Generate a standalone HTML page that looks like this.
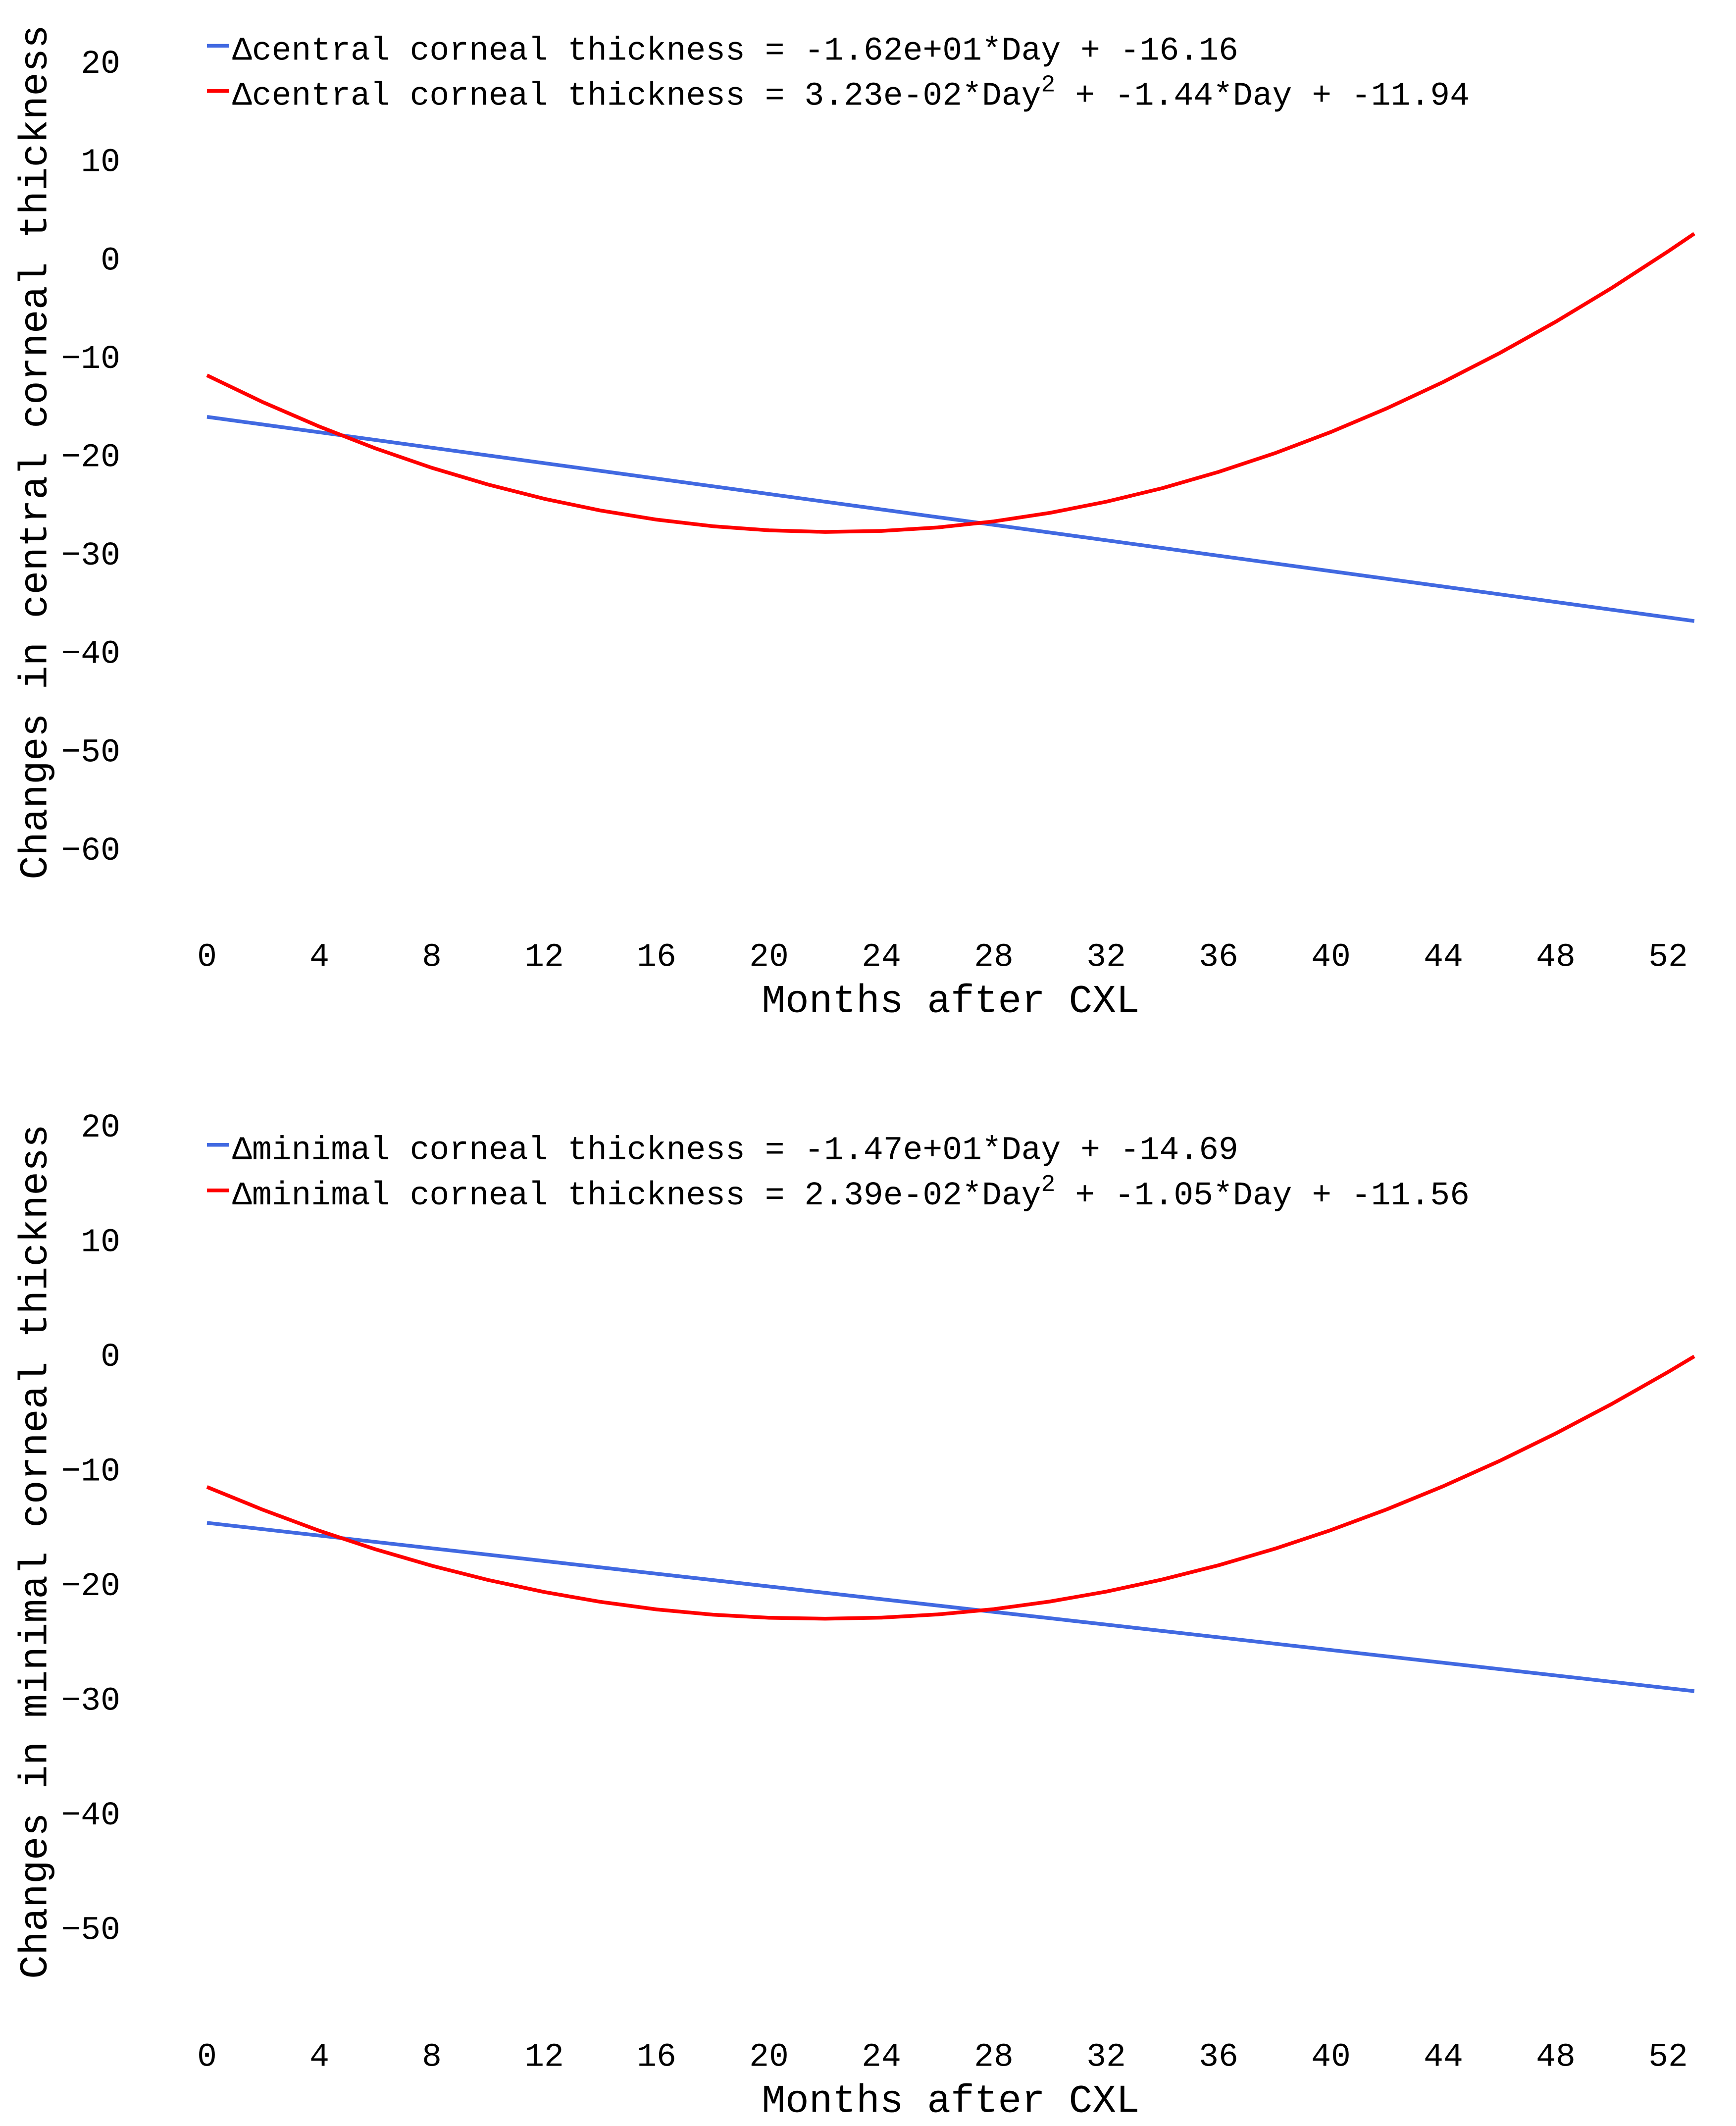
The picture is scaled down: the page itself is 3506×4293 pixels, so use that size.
<!DOCTYPE html>
<html lang="en">
<head>
<meta charset="utf-8">
<title>Changes in corneal thickness after CXL</title>
<style>
html,body{margin:0;padding:0;background:#fff;}
svg{display:block;}
text{font-family:"Liberation Mono",monospace;fill:#000;}
.tick{font-size:66.4px;}
.legend{font-size:66.4px;white-space:pre;}
.title{font-size:79.5px;}
.ytitle{font-size:79.9px;}
</style>
</head>
<body>
<svg id="figure" xmlns="http://www.w3.org/2000/svg" width="3506" height="4293" viewBox="0 0 3506 4293">
  <rect x="0" y="0" width="3506" height="4293" fill="#ffffff"/>
  <g id="panel-top">
    <g id="top-marks"></g>
    <g id="top-yticks"></g>
    <g id="top-xticks"></g>
    <text class="ytitle" text-anchor="middle" transform="translate(93.5 913) rotate(-90)">Changes in central corneal thickness</text>
    <text class="title" text-anchor="middle" x="1920" y="2043.5">Months after CXL</text>
    <line x1="418" x2="463" y1="92.5" y2="92.5" stroke="#4169e1" stroke-width="7.5"/>
    <line x1="418" x2="463" y1="183.7" y2="183.7" stroke="#ff0000" stroke-width="7.5"/>
    <text class="legend" x="469" y="120.5" xml:space="preserve">Δcentral corneal thickness = -1.62e+01*Day + -16.16</text>
    <text class="legend" x="469" y="211.5" xml:space="preserve">Δcentral corneal thickness = 3.23e-02*Day<tspan font-size="48" dy="-27">2</tspan><tspan dy="27"> + -1.44*Day + -11.94</tspan></text>
  </g>
  <g id="panel-bottom">
    <g id="bottom-marks"></g>
    <g id="bottom-yticks"></g>
    <g id="bottom-xticks"></g>
    <text class="ytitle" text-anchor="middle" transform="translate(93.5 3133) rotate(-90)">Changes in minimal corneal thickness</text>
    <text class="title" text-anchor="middle" x="1920" y="4264.5">Months after CXL</text>
    <line x1="418" x2="463" y1="2311.8" y2="2311.8" stroke="#4169e1" stroke-width="7.5"/>
    <line x1="418" x2="463" y1="2403.7" y2="2403.7" stroke="#ff0000" stroke-width="7.5"/>
    <text class="legend" x="469" y="2340.5" xml:space="preserve">Δminimal corneal thickness = -1.47e+01*Day + -14.69</text>
    <text class="legend" x="469" y="2432" xml:space="preserve">Δminimal corneal thickness = 2.39e-02*Day<tspan font-size="48" dy="-27">2</tspan><tspan dy="27"> + -1.05*Day + -11.56</tspan></text>
  </g>
</svg>
<script>
var xTickLabels = [0, 4, 8, 12, 16, 20, 24, 28, 32, 36, 40, 44, 48, 52];
var topYTicks = [20, 10, 0, -10, -20, -30, -40, -50, -60];
var bottomYTicks = [20, 10, 0, -10, -20, -30, -40, -50];

var lineMonths = [0, 52.93];
var curveMonths = [0, 2, 4, 6, 8, 10, 12, 14, 16, 18, 20, 22, 24, 26, 28, 30, 32, 34, 36, 38, 40, 42, 44, 46, 48, 50, 52, 52.93];

var centralLinear = [-16.16, -36.92];
var centralQuadratic = [-11.94, -14.68, -17.15, -19.37, -21.34, -23.04, -24.49, -25.68, -26.61, -27.28, -27.70, -27.86, -27.76, -27.41, -26.79, -25.92, -24.79, -23.41, -21.76, -19.86, -17.70, -15.28, -12.61, -9.68, -6.49, -3.04, 0.67, 2.47];

var minimalLinear = [-14.69, -29.37];
var minimalQuadratic = [-11.56, -13.56, -15.38, -17.00, -18.43, -19.67, -20.72, -21.58, -22.24, -22.70, -22.97, -23.05, -22.96, -22.68, -22.22, -21.55, -20.69, -19.63, -18.39, -16.95, -15.32, -13.50, -11.49, -9.29, -6.89, -4.31, -1.53, -0.17];

var NS = 'http://www.w3.org/2000/svg';

function xScale(month) {
  return 418 + month * 56.75;
}
function yScaleTop(value) {
  return 520.8 - value * 19.86;
}
function yScaleBottom(value) {
  return 2735 - value * 23.15;
}
function linePoints(months, values, yScale) {
  return months.map(function (m, i) {
    return xScale(m).toFixed(2) + ',' + yScale(values[i]).toFixed(2);
  }).join(' ');
}
function drawSeries(parentId, name, months, values, yScale, color) {
  var el = document.createElementNS(NS, 'polyline');
  
  
  el.setAttribute('points', linePoints(months, values, yScale));
  el.setAttribute('fill', 'none');
  el.setAttribute('stroke', color);
  el.setAttribute('stroke-width', '7.5');
  el.setAttribute('stroke-linejoin', 'round');
  document.getElementById(parentId).appendChild(el);
}
function drawYTicks(parentId, ticks, yScale, offset) {
  ticks.forEach(function (v) {
    var t = document.createElementNS(NS, 'text');
    
    
    t.setAttribute('class', 'tick');
    t.setAttribute('text-anchor', 'end');
    t.setAttribute('x', '243');
    t.setAttribute('y', (yScale(v) + offset).toFixed(2));
    t.textContent = String(v).replace('-', '\u2212');
    document.getElementById(parentId).appendChild(t);
  });
}
function drawXTicks(parentId, ticks, baseline) {
  ticks.forEach(function (v) {
    var t = document.createElementNS(NS, 'text');
    
    
    t.setAttribute('class', 'tick');
    t.setAttribute('text-anchor', 'middle');
    t.setAttribute('x', xScale(v).toFixed(2));
    t.setAttribute('y', baseline);
    t.textContent = String(v);
    document.getElementById(parentId).appendChild(t);
  });
}

drawSeries('top-marks', 'central-linear-fit-line', lineMonths, centralLinear, yScaleTop, '#4169e1');
drawSeries('top-marks', 'central-quadratic-fit-line', curveMonths, centralQuadratic, yScaleTop, '#ff0000');
drawYTicks('top-yticks', topYTicks, yScaleTop, 23.5);
drawXTicks('top-xticks', xTickLabels, 1950.5);

drawSeries('bottom-marks', 'minimal-linear-fit-line', lineMonths, minimalLinear, yScaleBottom, '#4169e1');
drawSeries('bottom-marks', 'minimal-quadratic-fit-line', curveMonths, minimalQuadratic, yScaleBottom, '#ff0000');
drawYTicks('bottom-yticks', bottomYTicks, yScaleBottom, 23);
drawXTicks('bottom-xticks', xTickLabels, 4171.5);
</script>
</body>
</html>
